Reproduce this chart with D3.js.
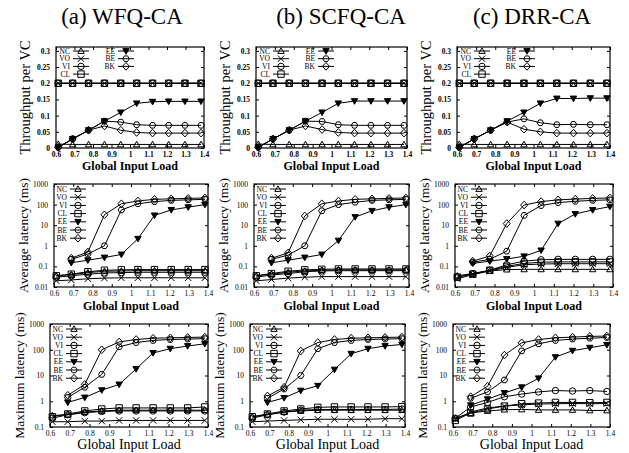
<!DOCTYPE html>
<html>
<head>
<meta charset="utf-8">
<script src="https://cdn.jsdelivr.net/npm/d3@7"></script>
<style>
body { margin: 0; background: #fff; }
svg text { font-family: "Liberation Serif", "Times New Roman", Times, serif !important; fill: #000; }
</style>
</head>
<body>
<script>
// x values (global input load) and class names
var loads = [0.612, 0.69, 0.776, 0.862, 0.95, 1.036, 1.122, 1.209, 1.297, 1.384];
var classes = ["NC", "VO", "VI", "CL", "EE", "BE", "BK"];
var schemes = ["(a) WFQ-CA", "(b) SCFQ-CA", "(c) DRR-CA"];
var xTicks = [0.6, 0.7, 0.8, 0.9, 1, 1.1, 1.2, 1.3, 1.4];
var thrTicks = [0, 0.05, 0.1, 0.15, 0.2, 0.25, 0.3];
var avgTicks = [0.01, 0.1, 1, 10, 100, 1000];
var maxTicks = [0.1, 1, 10, 100, 1000];

// throughput per VC, rows in class order
var wfqThr = [
  [0.012, 0.011, 0.011, 0.011, 0.011, 0.011, 0.011, 0.011, 0.011, 0.011],
  [0.2, 0.2, 0.2, 0.2, 0.2, 0.2, 0.2, 0.2, 0.2, 0.2],
  [0.2, 0.2, 0.2, 0.2, 0.2, 0.2, 0.2, 0.2, 0.2, 0.2],
  [0.2, 0.2, 0.2, 0.2, 0.2, 0.2, 0.2, 0.2, 0.2, 0.2],
  [0.002, 0.028, 0.055, 0.083, 0.11, 0.138, 0.143, 0.144, 0.144, 0.144],
  [0.002, 0.028, 0.055, 0.083, 0.08, 0.072, 0.07, 0.07, 0.07, 0.07],
  [0.002, 0.028, 0.055, 0.068, 0.055, 0.048, 0.046, 0.046, 0.046, 0.046]
];
var scfqThr = [
  [0.012, 0.011, 0.011, 0.011, 0.011, 0.011, 0.011, 0.011, 0.011, 0.011],
  [0.2, 0.2, 0.2, 0.2, 0.2, 0.2, 0.2, 0.2, 0.2, 0.2],
  [0.2, 0.2, 0.2, 0.2, 0.2, 0.2, 0.2, 0.2, 0.2, 0.2],
  [0.2, 0.2, 0.2, 0.2, 0.2, 0.2, 0.2, 0.2, 0.2, 0.2],
  [0.002, 0.028, 0.055, 0.083, 0.11, 0.138, 0.145, 0.145, 0.145, 0.145],
  [0.002, 0.028, 0.055, 0.083, 0.082, 0.072, 0.07, 0.07, 0.07, 0.07],
  [0.002, 0.028, 0.055, 0.068, 0.057, 0.048, 0.046, 0.046, 0.046, 0.046]
];
var drrThr = [
  [0.012, 0.011, 0.011, 0.011, 0.011, 0.011, 0.011, 0.011, 0.011, 0.011],
  [0.2, 0.2, 0.2, 0.2, 0.2, 0.2, 0.2, 0.2, 0.2, 0.2],
  [0.2, 0.2, 0.2, 0.2, 0.2, 0.2, 0.2, 0.2, 0.2, 0.2],
  [0.2, 0.2, 0.2, 0.2, 0.2, 0.2, 0.2, 0.2, 0.2, 0.2],
  [0.002, 0.028, 0.055, 0.083, 0.11, 0.138, 0.153, 0.153, 0.154, 0.154],
  [0.002, 0.028, 0.055, 0.08, 0.09, 0.078, 0.072, 0.073, 0.072, 0.072],
  [0.002, 0.028, 0.055, 0.08, 0.058, 0.05, 0.046, 0.046, 0.046, 0.046]
];

// average latency (ms)
var wfqAvg = [
  [0.035, 0.04, 0.05, 0.058, 0.06, 0.062, 0.062, 0.062, 0.062, 0.062],
  [0.02, 0.022, 0.025, 0.027, 0.028, 0.028, 0.028, 0.028, 0.028, 0.028],
  [0.03, 0.035, 0.042, 0.048, 0.05, 0.052, 0.052, 0.052, 0.052, 0.052],
  [0.035, 0.042, 0.055, 0.065, 0.068, 0.07, 0.07, 0.07, 0.07, 0.07],
  [null, 0.15, 0.2, 0.27, 0.38, 2.2, 30, 55, 75, 100],
  [null, 0.22, 0.4, 1.0, 55, 110, 140, 160, 170, 180],
  [null, 0.25, 0.5, 32, 110, 150, 180, 190, 200, 210]
];
var scfqAvg = [
  [0.035, 0.042, 0.052, 0.06, 0.065, 0.068, 0.068, 0.068, 0.068, 0.068],
  [0.02, 0.023, 0.027, 0.03, 0.032, 0.032, 0.032, 0.032, 0.032, 0.032],
  [0.03, 0.038, 0.045, 0.055, 0.06, 0.062, 0.062, 0.062, 0.062, 0.062],
  [0.035, 0.045, 0.058, 0.068, 0.072, 0.075, 0.075, 0.075, 0.075, 0.075],
  [null, 0.15, 0.2, 0.27, 0.38, 1.8, 25, 50, 75, 100],
  [null, 0.22, 0.35, 1.0, 50, 100, 130, 160, 170, 180],
  [null, 0.25, 0.45, 28, 110, 150, 180, 190, 200, 210]
];
var drrAvg = [
  [0.035, 0.045, 0.06, 0.07, 0.072, 0.072, 0.072, 0.072, 0.072, 0.072],
  [0.025, 0.04, 0.06, 0.09, 0.12, 0.13, 0.135, 0.135, 0.135, 0.135],
  [0.03, 0.045, 0.065, 0.12, 0.18, 0.21, 0.22, 0.22, 0.22, 0.22],
  [0.03, 0.042, 0.065, 0.1, 0.14, 0.16, 0.165, 0.165, 0.165, 0.165],
  [null, 0.14, 0.18, 0.23, 0.31, 0.6, 12, 35, 55, 80],
  [null, 0.16, 0.22, 0.55, 30, 90, 125, 145, 160, 170],
  [null, 0.18, 0.32, 12, 95, 140, 170, 185, 200, 210]
];

// maximum latency (ms)
var wfqMax = [
  [0.28, 0.3, 0.38, 0.42, 0.45, 0.45, 0.45, 0.45, 0.45, 0.45],
  [0.16, 0.16, 0.17, 0.17, 0.18, 0.18, 0.18, 0.18, 0.18, 0.18],
  [0.22, 0.3, 0.36, 0.4, 0.42, 0.42, 0.42, 0.42, 0.42, 0.42],
  [0.25, 0.32, 0.42, 0.5, 0.55, 0.55, 0.55, 0.55, 0.55, 0.6],
  [null, 0.9, 1.4, 2.7, 4.5, 18, 75, 110, 140, 170],
  [null, 1.4, 3.5, 11, 130, 190, 230, 250, 260, 270],
  [null, 1.7, 4.5, 100, 200, 250, 280, 290, 300, 310]
];
var scfqMax = [
  [0.25, 0.3, 0.38, 0.42, 0.45, 0.45, 0.45, 0.45, 0.45, 0.45],
  [0.16, 0.17, 0.18, 0.19, 0.2, 0.2, 0.2, 0.2, 0.21, 0.21],
  [0.22, 0.3, 0.38, 0.45, 0.48, 0.48, 0.48, 0.48, 0.48, 0.5],
  [0.25, 0.32, 0.42, 0.5, 0.58, 0.6, 0.6, 0.6, 0.6, 0.62],
  [null, 0.9, 1.35, 2.6, 4, 17, 70, 110, 140, 160],
  [null, 1.3, 3.0, 10, 110, 190, 230, 250, 260, 270],
  [null, 1.6, 3.5, 90, 190, 250, 280, 290, 300, 310]
];
var drrMax = [
  [0.22, 0.35, 0.42, 0.47, 0.48, 0.46, 0.46, 0.46, 0.44, 0.44],
  [0.2, 0.38, 0.55, 0.65, 0.72, 0.78, 0.8, 0.82, 0.8, 0.82],
  [0.22, 0.6, 0.9, 1.5, 1.9, 2.3, 2.6, 2.5, 2.6, 2.4],
  [0.18, 0.35, 0.5, 0.65, 0.8, 0.85, 0.9, 0.9, 0.88, 0.9],
  [null, 0.7, 1.2, 2.1, 3.5, 7.8, 52, 92, 120, 155],
  [null, 1.3, 2.3, 6.7, 90, 170, 230, 260, 280, 300],
  [null, 1.5, 3.8, 62, 185, 250, 290, 310, 330, 340]
];

var svg = d3.select("body").append("svg")
    .attr("width", 629)
    .attr("height", 453);

// titles
var titleX = [122, 341, 532];
schemes.forEach(function(s, i) {
  svg.append("text")
     .attr("x", titleX[i]).attr("y", 24)
     .attr("text-anchor", "middle")
     .style("font-size", "23px")
     .text(s);
});

// marker shapes
function markerPath(k, s) {
  if (k == 0) return "M0," + (-s) + "L" + s + "," + (s * 0.75) + "L" + (-s) + "," + (s * 0.75) + "Z";
  if (k == 1) return "M" + (-s) + "," + (-s) + "L" + s + "," + s + "M" + (-s) + "," + s + "L" + s + "," + (-s);
  if (k == 2) return d3.symbol(d3.symbolCircle, Math.PI * s * s)();
  if (k == 3) return "M" + (-s) + "," + (-s) + "H" + s + "V" + s + "H" + (-s) + "Z";
  if (k == 4) return "M0," + s + "L" + s + "," + (-s * 0.75) + "L" + (-s) + "," + (-s * 0.75) + "Z";
  if (k == 5) {
    var p = [];
    for (var j = 0; j < 6; j++) {
      var a = Math.PI / 3 * j;
      p.push([s * Math.cos(a), s * Math.sin(a)]);
    }
    return "M" + p.join("L") + "Z";
  }
  return "M0," + (-s * 1.2) + "L" + (s * 1.1) + ",0L0," + (s * 1.2) + "L" + (-s * 1.1) + ",0Z";
}

function drawMarker(g, k, x, y) {
  g.append("path")
   .attr("transform", "translate(" + x + "," + y + ")")
   .attr("d", markerPath(k, 3.2))
   .attr("fill", k == 4 ? "#000" : "none")
   .attr("stroke", "#000")
   .attr("stroke-width", 1);
}

// one panel
function panel(box, data, kind, ylabel, xlabelStyle) {
  var g = svg.append("g");
  var x = d3.scaleLinear().domain([0.6, 1.4]).range([box[0], box[1]]);
  var y, ticks;
  if (kind == "thr") {
    y = d3.scaleLinear().domain([0, 0.312]).range([box[3], box[2]]);
    ticks = thrTicks;
  } else if (kind == "avg") {
    y = d3.scaleLog().domain([0.01, 1000]).range([box[3], box[2]]);
    ticks = avgTicks;
  } else {
    y = d3.scaleLog().domain([0.1, 1000]).range([box[3], box[2]]);
    ticks = maxTicks;
  }
  var fmt = function(d) { return String(d); };
  var bold = kind == "thr" ? "bold" : "normal";

  // axes with inward ticks, mirrored on the opposite side
  g.append("g").attr("transform", "translate(0," + box[3] + ")")
   .call(d3.axisBottom(x).tickValues(xTicks).tickSizeInner(-3).tickSizeOuter(0).tickPadding(4).tickFormat(fmt))
   .call(function(a) {
     a.attr("font-family", null);
     a.select(".domain").remove();
     a.selectAll("text").style("font-size", "7.5px").style("font-weight", bold);
   });
  g.append("g").attr("transform", "translate(0," + box[2] + ")")
   .call(d3.axisTop(x).tickValues(xTicks).tickSizeInner(-3).tickSizeOuter(0).tickFormat(""))
   .call(function(a) { a.select(".domain").remove(); });
  g.append("g").attr("transform", "translate(" + box[0] + ",0)")
   .call(d3.axisLeft(y).tickValues(ticks).tickSizeInner(-3).tickSizeOuter(0).tickPadding(6).tickFormat(fmt))
   .call(function(a) {
     a.attr("font-family", null);
     a.select(".domain").remove();
     a.selectAll("text").style("font-size", "7.5px").style("font-weight", bold);
   });
  g.append("g").attr("transform", "translate(" + box[1] + ",0)")
   .call(d3.axisRight(y).tickValues(ticks).tickSizeInner(-3).tickSizeOuter(0).tickFormat(""))
   .call(function(a) { a.select(".domain").remove(); });

  g.append("rect")
   .attr("x", box[0]).attr("y", box[2])
   .attr("width", box[1] - box[0]).attr("height", box[3] - box[2])
   .attr("fill", "none").attr("stroke", "#000").attr("stroke-width", 1.2);

  // series
  var line = d3.line()
    .defined(function(d) { return d[1] != null; })
    .x(function(d) { return x(d[0]); })
    .y(function(d) { return y(d[1]); });

  data.forEach(function(vals, k) {
    var pts = loads.map(function(l, i) { return [l, vals[i]]; });
    g.append("path")
     .attr("d", line(pts))
     .attr("fill", "none")
     .attr("stroke", "#000")
     .attr("stroke-width", 1);
    pts.forEach(function(p) {
      if (p[1] != null) drawMarker(g, k, x(p[0]), y(p[1]));
    });
  });

  // legend
  var lg = g.append("g");
  classes.forEach(function(c, k) {
    var lx, ly;
    if (kind == "thr") {
      var col = k < 4 ? 0 : 1;
      var row = k < 4 ? k : k - 4;
      lx = box[0] + 14 + col * 45;
      ly = box[2] + 4 + row * 7.7;
    } else {
      lx = box[0] + 13;
      ly = box[2] + 5 + k * 8.2;
    }
    lg.append("text")
      .attr("x", lx).attr("y", ly + 2.5)
      .attr("text-anchor", "end")
      .style("font-size", "7.5px")
      .text(c);
    lg.append("line")
      .attr("x1", lx + 3).attr("x2", lx + 19)
      .attr("y1", ly).attr("y2", ly)
      .attr("stroke", "#000").attr("stroke-width", 1);
    drawMarker(lg, k, lx + 11, ly);
  });

  // axis titles
  svg.append("text")
     .attr("transform", "translate(" + (box[0] - 26) + "," + ((box[2] + box[3]) / 2) + ") rotate(-90)")
     .attr("text-anchor", "middle")
     .style("font-size", kind == "thr" ? "14.5px" : "13.5px")
     .text(ylabel);
  svg.append("text")
     .attr("x", (box[0] + box[1]) / 2)
     .attr("y", xlabelStyle.y)
     .attr("text-anchor", "middle")
     .style("font-size", xlabelStyle.size)
     .style("font-weight", xlabelStyle.weight)
     .text("Global Input Load");
}

var rowThr = [[56, 204, 47, 148], [256, 407, 47, 148], [457, 610, 47, 148]];
var rowAvg = [[54, 208, 184, 287], [254, 409, 184, 287], [455, 613, 184, 287]];
var rowMax = [[50, 208, 324, 427], [250, 405, 324, 427], [453, 610, 324, 427]];

var thrData = [wfqThr, scfqThr, drrThr];
var avgData = [wfqAvg, scfqAvg, drrAvg];
var maxData = [wfqMax, scfqMax, drrMax];

for (var i = 0; i < 3; i++) {
  panel(rowThr[i], thrData[i], "thr", "Throughput per VC", {y: 170, size: "12px", weight: "bold"});
  panel(rowAvg[i], avgData[i], "avg", "Average latency (ms)", {y: 310, size: "12px", weight: "bold"});
  panel(rowMax[i], maxData[i], "max", "Maximum latency (ms)", {y: 449, size: "14px", weight: "normal"});
}
</script>
</body>
</html>
